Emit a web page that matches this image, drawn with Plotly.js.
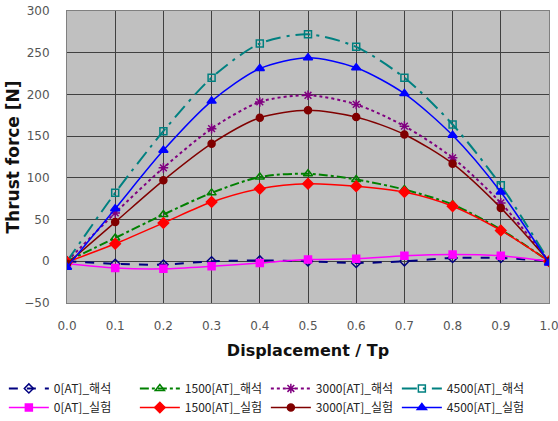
<!DOCTYPE html>
<html>
<head>
<meta charset="utf-8">
<script src="https://cdn.plot.ly/plotly-3.0.1.min.js"></script>
<style>html,body{margin:0;padding:0;background:#fff}#chart{width:558px;height:421px}</style>
</head>
<body>
<div id="chart"></div>
<script>
const xs = [0.0, 0.1, 0.2, 0.3, 0.4, 0.5, 0.6, 0.7, 0.8, 0.9, 1.0];
const xTickLabels = ["0.0","0.1","0.2","0.3","0.4","0.5","0.6","0.7","0.8","0.9","1.0"];
const seriesNames = ["0[AT]_해석","1500[AT]_해석","3000[AT]_해석","4500[AT]_해석",
                     "0[AT]_실험","1500[AT]_실험","3000[AT]_실험","4500[AT]_실험"];
const anal0    = [0, -3, -4, 0, 1, 0, -2, 0, 4, 4, 0];
const anal1500 = [0, 28, 56, 82, 101, 105, 98, 86, 68, 38, 0];
const anal3000 = [0, 58, 112, 159, 191, 199, 188, 162, 124, 70, 0];
const anal4500 = [0, 82, 156, 220, 261, 272, 257, 220, 164, 91, 0];
const exp0     = [-3, -8, -9, -6, -2, 2, 3, 6.5, 8, 6.5, 0];
const exp1500  = [-1, 21, 46, 71, 87, 93, 90, 83, 66, 37, 0];
const exp3000  = [-3, 47, 97, 141, 172, 181, 173, 152, 117, 64, 0];
const exp4500  = [-7, 63, 133, 192, 231, 244, 232, 201, 151, 83, -2];

const ys = [anal0, anal1500, anal3000, anal4500, exp0, exp1500, exp3000, exp4500];
const styles = [
  {color:'#000080', dash:'dash', width:2, symbol:'diamond-open', size:7},
  {color:'#008000', dash:'dashdot', width:2, symbol:'triangle-up-open', size:8},
  {color:'#800080', dash:'dot', width:2, symbol:'asterisk-open', size:8},
  {color:'#008080', dash:'longdashdot', width:2, symbol:'square-open', size:7},
  {color:'#FF00FF', dash:'solid', width:1.5, symbol:'square', size:7},
  {color:'#FF0000', dash:'solid', width:1.5, symbol:'diamond', size:8},
  {color:'#800000', dash:'solid', width:1.5, symbol:'circle', size:7},
  {color:'#0000FF', dash:'solid', width:1.5, symbol:'triangle-up', size:8}
];
const traces = ys.map((y, i) => ({
  x: xs, y: y, name: seriesNames[i], type: 'scatter', mode: 'lines+markers',
  line: {color: styles[i].color, dash: styles[i].dash, width: styles[i].width, shape: 'spline', smoothing: 0.8},
  marker: {symbol: styles[i].symbol, size: styles[i].size, color: styles[i].color,
           line: {color: styles[i].color, width: 1.5}}
}));

const layout = {
  width: 558, height: 421,
  margin: {l: 67, r: 9, t: 11, b: 118, autoexpand: false},
  paper_bgcolor: '#ffffff', plot_bgcolor: '#C0C0C0',
  showlegend: true,
  xaxis: {
    range: [0, 1], tickvals: xs, ticktext: xTickLabels,
    showgrid: true, gridcolor: '#404040', gridwidth: 1,
    showline: true, linecolor: '#808080', mirror: true, zeroline: false,
    ticks: 'outside', ticklen: 12, tickcolor: 'rgba(0,0,0,0)', ticklabeloverflow: 'allow',
    tickfont: {family: 'DejaVu Sans', size: 12, color: '#555'},
    title: {text: 'Displacement / Tp', standoff: 12, font: {family: 'DejaVu Sans', size: 16, color: '#111', weight: 'bold'}}
  },
  yaxis: {
    range: [-50, 300], dtick: 50,
    showgrid: true, gridcolor: '#404040', gridwidth: 1,
    showline: true, linecolor: '#808080', mirror: true, zeroline: false,
    ticks: 'outside', ticklen: 14, tickcolor: 'rgba(0,0,0,0)',
    tickfont: {family: 'DejaVu Sans', size: 12, color: '#555'},
    title: {text: 'Thrust force [N]', standoff: 0, font: {family: 'DejaVu Sans', size: 17, color: '#111', weight: 'bold'}}
  },
  legend: {
    orientation: 'h', x: -0.131, xanchor: 'left', y: -0.243, yanchor: 'top',
    itemwidth: 40, entrywidth: 76, entrywidthmode: 'pixels', tracegroupgap: 0,
    font: {family: 'Noto Sans CJK KR', size: 12, color: '#222'},
    bgcolor: 'rgba(0,0,0,0)'
  }
};
Plotly.newPlot('chart', traces, layout, {displayModeBar: false, staticPlot: true});
</script>
</body>
</html>
